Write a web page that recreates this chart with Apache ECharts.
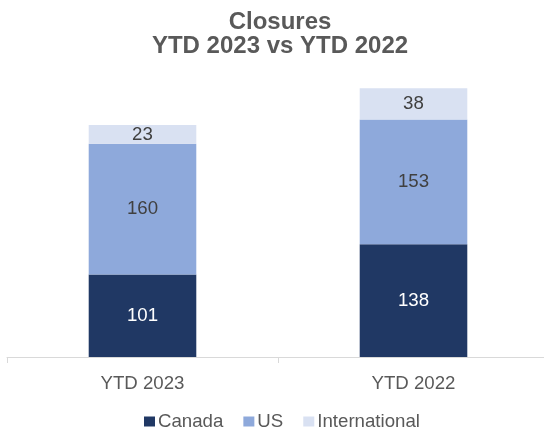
<!DOCTYPE html>
<html><head><meta charset="utf-8">
<script src="https://cdn.jsdelivr.net/npm/echarts@6/dist/echarts.min.js"></script>
<style>html,body{margin:0;padding:0;background:#fff;overflow:hidden}#c{width:560px;height:434px}</style>
</head><body><div id="c"></div>
<script>
const categories = ['YTD 2023', 'YTD 2022'];
const canada = [101, 138];
const us = [160, 153];
const international = [23, 38];

const chart = echarts.init(document.getElementById('c'));
const font = 'Liberation Sans, Arial, sans-serif';
function s(name, data, color, labelColor) {
  return {
    name, type: 'bar', stack: 'total', data, barWidth: '39.7%',
    itemStyle: { color },
    label: { show: true, position: 'inside', color: labelColor, fontSize: 18.67, fontFamily: font }
  };
}
chart.setOption({
  animation: false,
  title: {
    text: 'Closures\nYTD 2023 vs YTD 2022', left: 280, top: 10, textAlign: 'center',
    padding: 0,
    textStyle: { fontSize: 24, fontWeight: 'bold', color: '#595959', fontFamily: font, lineHeight: 24 }
  },
  legend: {
    top: 412, left: 144, padding: 0, itemWidth: 11, itemHeight: 10, itemGap: 20, icon: 'rect',
    textStyle: { fontSize: 18.67, color: '#595959', fontFamily: font, padding: [0,0,0,-2] }
  },
  grid: { left: 7, width: 542, top: 71.2, bottom: 77 },
  xAxis: {
    type: 'category', data: categories,
    axisLine: { lineStyle: { color: '#D9D9D9', width: 1 } },
    axisTick: { show: true, length: 6, lineStyle: { color: '#D9D9D9' } },
    axisLabel: { fontSize: 18.67, color: '#595959', fontFamily: font, margin: 17 }
  },
  yAxis: { type: 'value', min: 0, max: 350, show: false, splitLine: { show: false } },
  series: [
    s('Canada', canada, '#203864', '#ffffff'),
    s('US', us, '#8EA9DB', '#404040'),
    s('International', international, '#D9E1F2', '#404040')
  ]
});
</script></body></html>
